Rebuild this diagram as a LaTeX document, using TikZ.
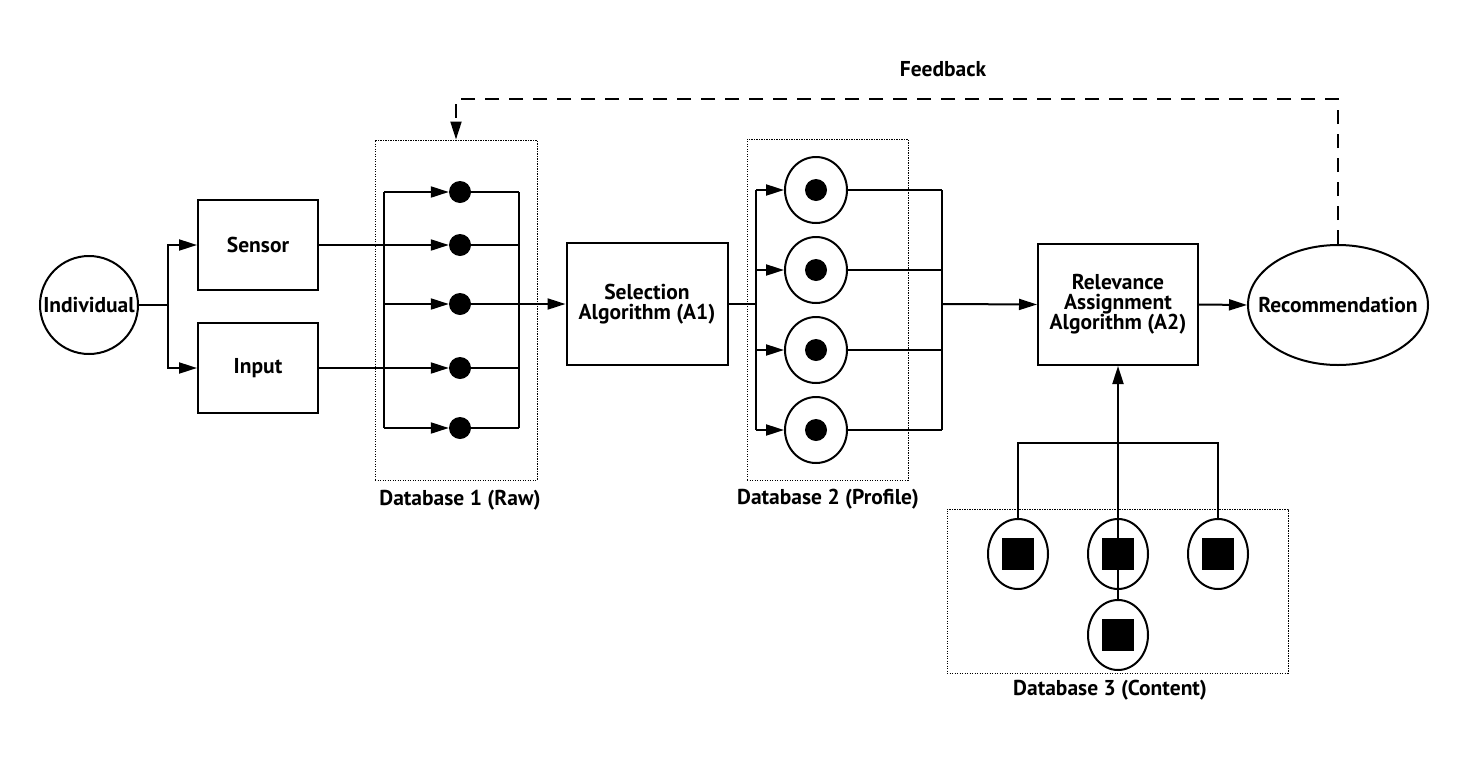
\documentclass[tikz,border=0pt]{standalone}
\usepackage{fontspec}
\setmainfont{PT Sans}
\usetikzlibrary{arrows.meta,shapes.geometric}
\begin{document}
\begin{tikzpicture}[x=1pt,y=-1pt,
  every node/.style={font=\bfseries\fontsize{21.5}{20}\selectfont},
  wire/.style={line width=2pt},
  arr/.style={wire,-{Triangle[length=18pt,width=11pt]}},
  fbline/.style={wire,dash pattern=on 14pt off 10pt,-{Triangle[length=18pt,width=11pt]}},
  block/.style={draw,line width=2pt,rectangle,align=center,inner sep=0pt},
  group/.style={draw,line width=1pt,dash pattern=on 1.2pt off 1.3pt,rectangle,inner sep=0pt},
  rawdot/.style={circle,fill=black,minimum size=22pt,inner sep=0pt},
  cell/.style={draw,ellipse,line width=2pt,inner sep=0pt},
  item/.style={rectangle,fill=black,minimum size=32pt,inner sep=0pt}
]
\useasboundingbox (0,0) rectangle (1468,761);

% sources
\node[draw,circle,line width=2pt,minimum size=98pt,inner sep=0pt] (ind) at (89,305) {};
\node at (ind) {Individual};
\node[block,minimum width=120pt,minimum height=90pt] (sensor) at (258,245) {Sensor};
\node[block,minimum width=120pt,minimum height=90pt] (input) at (258,368) {Input};
\coordinate (split) at (168,305);
\draw[wire] (ind.east) -- (split);
\draw[arr] (split) |- (sensor.west);
\draw[arr] (split) |- (input.west);

% database 1 (raw)
\node[group,minimum width=162pt,minimum height=340pt] (db1) at (456,310) {};
\node at (460,500) {Database 1 (Raw)};
\foreach \i/\y in {1/192,2/245,3/304,4/368,5/428}{
  \node[rawdot] (r\i) at (460,\y) {};
  \coordinate (rl\i) at (384,\y);
  \coordinate (rr\i) at (519,\y);
}
\draw[wire] (rl1) -- (rl5);
\draw[wire] (rr1) -- (rr5);
\foreach \i in {1,3,5}{ \draw[arr] (rl\i) -- (r\i.west); }
\draw[arr] (sensor.east) -- (r2.west);
\draw[arr] (input.east) -- (r4.west);
\foreach \i in {1,2,4,5}{ \draw[wire] (r\i.east) -- (rr\i); }

% selection algorithm
\node[block,minimum width=161pt,minimum height=122pt] (sel) at (647,304) {Selection\\Algorithm (A1)};
\draw[arr] (r3.east) -- (sel.west);

% database 2 (profile)
\node[group,minimum width=161pt,minimum height=341pt] (db2) at (827.5,309.5) {};
\node at (828,499) {Database 2 (Profile)};
\foreach \i/\y in {1/190,2/270,3/350,4/430}{
  \node[cell,minimum width=62pt,minimum height=66pt] (p\i) at (816,\y) {};
  \node[rawdot] at (p\i) {};
  \coordinate (pl\i) at (756,\y);
  \coordinate (pr\i) at (942,\y);
  \draw[arr] (pl\i) -- (p\i.west);
  \draw[wire] (p\i.east) -- (pr\i);
}
\coordinate (selout) at (756,304);
\coordinate (profout) at (942,304);
\draw[wire] (pl1) -- (pl4);
\draw[wire] (pr1) -- (pr4);
\draw[wire] (sel.east) -- (selout);

% relevance assignment and recommendation
\node[block,minimum width=160pt,minimum height=121pt] (rel) at (1118,304.5) {Relevance\\Assignment\\Algorithm (A2)};
\node[cell,minimum width=180pt,minimum height=120pt] (rec) at (1338,305) {};
\node at (rec) {Recommendation};
\draw[arr] (profout) -- (rel.west);
\draw[arr] (rel.east) -- (rec.west);

% feedback loop
\coordinate (fbr) at (1338,99);
\coordinate (fbl) at (456,99);
\draw[fbline] (rec.north) -- (fbr) -- (fbl) -- (db1.north);
\node at (943,69) {Feedback};

% database 3 (content)
\node[group,minimum width=341pt,minimum height=164pt] (db3) at (1117.5,591) {};
\node at (1110,690) {Database 3 (Content)};
\node[cell,minimum width=60pt,minimum height=70pt] (c1) at (1018,554) {};
\node[cell,minimum width=60pt,minimum height=70pt] (c2) at (1118,554) {};
\node[cell,minimum width=60pt,minimum height=70pt] (c3) at (1218,554) {};
\node[cell,minimum width=60pt,minimum height=70pt] (c4) at (1118,635) {};
\coordinate (busl) at (1018,443);
\coordinate (busr) at (1218,443);
\draw[wire] (c1.north) -- (busl) -- (busr) -- (c3.north);
\draw[arr] (c4.north) -- (rel.south);
\foreach \c in {c1,c2,c3,c4}{ \node[item] at (\c) {}; }
\end{tikzpicture}
\end{document}
